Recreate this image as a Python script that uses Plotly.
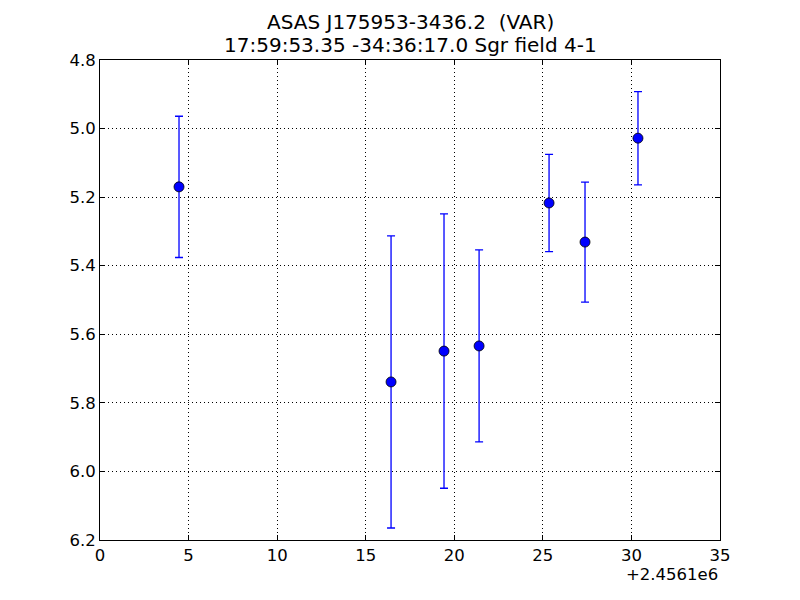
import plotly.graph_objects as go

OFFSET = 2456100.0
hjd = [2456104.46, 2456116.43, 2456119.42, 2456121.40, 2456125.35, 2456127.38, 2456130.37]
mag = [5.170, 5.739, 5.649, 5.634, 5.217, 5.331, 5.028]
err = [0.206, 0.426, 0.400, 0.280, 0.142, 0.175, 0.136]

x_ticks = [0, 5, 10, 15, 20, 25, 30, 35]
y_ticks = [4.8, 5.0, 5.2, 5.4, 5.6, 5.8, 6.0, 6.2]

xs = [h - OFFSET for h in hjd]

font = dict(family="DejaVu Sans", size=16.5, color="black")
title_font = dict(family="DejaVu Sans", size=20, color="black")

fig = go.Figure()
fig.add_trace(go.Scatter(
    x=xs, y=mag, mode="markers",
    marker=dict(color="#0000ff", size=10, line=dict(color="black", width=0.8)),
    error_y=dict(type="data", array=err, visible=True, color="#0000ff",
                 thickness=1.3, width=4),
    showlegend=False,
))

axis_common = dict(
    showline=True, linecolor="black", linewidth=1, mirror="ticks",
    ticks="inside", ticklen=5, tickcolor="black",
    showgrid=True, gridcolor="black", gridwidth=1, griddash="1px,3px",
    zeroline=False, tickfont=font,
)

fig.update_xaxes(range=[0, 35], tickvals=x_ticks, ticktext=[str(v) for v in x_ticks], **axis_common)
fig.update_yaxes(range=[6.2, 4.8], tickvals=y_ticks, ticktext=[f"{v:.1f}" for v in y_ticks], **axis_common)

fig.update_layout(
    width=800, height=600,
    margin=dict(l=100, r=80, t=60, b=60),
    paper_bgcolor="white", plot_bgcolor="white",
    font=font,
    annotations=[
        dict(text="ASAS J175953-3436.2  (VAR)", x=0.5, y=1, xref="paper", yref="paper",
             xanchor="center", yanchor="bottom", yshift=24, showarrow=False,
             font=title_font),
        dict(text="17:59:53.35 -34:36:17.0 Sgr field 4-1", x=0.5, y=1, xref="paper", yref="paper",
             xanchor="center", yanchor="bottom", yshift=1, showarrow=False,
             font=title_font),
        dict(text="+2.4561e6", x=1, y=0, xref="paper", yref="paper",
             xanchor="right", yanchor="top", yshift=-23, showarrow=False,
             font=font),
    ],
)

fig.write_html("out.html", config={"displayModeBar": False},
               post_script="document.body.style.margin='0';document.body.style.padding='0';")
